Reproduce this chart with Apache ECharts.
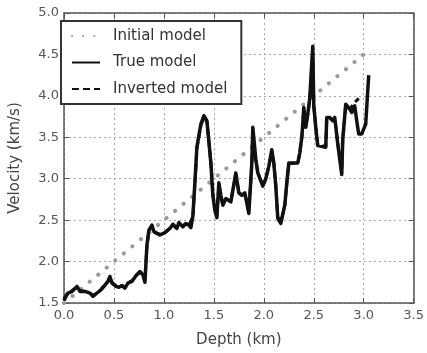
<!DOCTYPE html>
<html>
<head>
<meta charset="utf-8">
<script src="https://cdn.jsdelivr.net/npm/echarts@6/dist/echarts.min.js"></script>
<style>
  html, body { margin: 0; padding: 0; background: #fff; }
  #chart { width: 427px; height: 353px; }
</style>
</head>
<body>
<div id="chart"></div>
<script>
// values
const xTicks = [0, 0.5, 1.0, 1.5, 2.0, 2.5, 3.0, 3.5];
const yTicks = [1.5, 2.0, 2.5, 3.0, 3.5, 4.0, 4.5, 5.0];

const initialDepth = [0.0, 3.0];
const initialVel = [1.5, 4.5];

const trueDepth = [0.00, 0.02, 0.04, 0.08, 0.13, 0.16, 0.21, 0.26, 0.29, 0.34, 0.37, 0.40, 0.44, 0.46, 0.48,
  0.52, 0.55, 0.58, 0.61, 0.64, 0.68, 0.72, 0.76, 0.79, 0.81, 0.83, 0.85, 0.88, 0.90, 0.93, 0.96,
  1.01, 1.06, 1.09, 1.13, 1.15, 1.19, 1.22, 1.25, 1.27, 1.29, 1.31, 1.33, 1.37, 1.40, 1.43, 1.44,
  1.47, 1.49, 1.51, 1.53, 1.55, 1.57, 1.59, 1.62, 1.67, 1.72, 1.75, 1.78, 1.81, 1.85, 1.88, 1.89,
  1.92, 1.94, 1.99, 2.02, 2.05, 2.08, 2.10, 2.12, 2.14, 2.17, 2.19, 2.21, 2.23, 2.25, 2.34, 2.36,
  2.38, 2.39, 2.40, 2.42, 2.44, 2.46, 2.49, 2.50, 2.52, 2.54, 2.62, 2.63, 2.66, 2.69, 2.71, 2.74,
  2.78, 2.79, 2.82, 2.86, 2.88, 2.91, 2.93, 2.95, 2.98, 3.02, 3.05];
const trueVel = [1.53, 1.58, 1.62, 1.64, 1.70, 1.64, 1.64, 1.62, 1.58, 1.63, 1.66, 1.70, 1.76, 1.82, 1.74,
  1.70, 1.69, 1.71, 1.68, 1.74, 1.76, 1.83, 1.88, 1.84, 1.75, 2.20, 2.38, 2.44, 2.36, 2.34, 2.32,
  2.35, 2.40, 2.45, 2.40, 2.47, 2.42, 2.46, 2.44, 2.41, 2.55, 2.95, 3.38, 3.66, 3.76, 3.70, 3.58,
  3.19, 2.80, 2.62, 2.53, 2.95, 2.80, 2.68, 2.76, 2.72, 3.07, 2.83, 2.80, 2.83, 2.58, 3.19, 3.62,
  3.23, 3.07, 2.91, 3.00, 3.15, 3.35, 3.19, 2.91, 2.52, 2.46, 2.48, 2.68, 2.95, 3.19, 3.19, 3.31,
  3.50, 3.66, 3.86, 3.62, 3.78, 3.97, 4.60, 3.89, 3.62, 3.40, 3.38, 3.74, 3.74, 3.70, 3.74, 3.42,
  3.05, 3.47, 3.90, 3.84, 3.80, 3.88, 3.70, 3.54, 3.54, 3.66, 4.25];

const invDepth = [0.00, 0.02, 0.04, 0.08, 0.13, 0.16, 0.21, 0.26, 0.29, 0.34, 0.37, 0.40, 0.44, 0.46, 0.48,
  0.52, 0.55, 0.58, 0.61, 0.64, 0.68, 0.72, 0.76, 0.79, 0.81, 0.83, 0.85, 0.88, 0.90, 0.93, 0.96,
  1.01, 1.06, 1.09, 1.13, 1.15, 1.19, 1.22, 1.25, 1.27, 1.29, 1.31, 1.33, 1.37, 1.40, 1.43, 1.44,
  1.47, 1.49, 1.51, 1.53, 1.55, 1.57, 1.59, 1.62, 1.67, 1.72, 1.75, 1.78, 1.81, 1.85, 1.88, 1.89,
  1.92, 1.94, 1.99, 2.02, 2.05, 2.08, 2.10, 2.12, 2.14, 2.17, 2.19, 2.21, 2.23, 2.25, 2.34, 2.36,
  2.38, 2.39, 2.40, 2.42, 2.44, 2.46, 2.49, 2.50, 2.52, 2.54, 2.62, 2.63, 2.66, 2.69, 2.71, 2.74,
  2.78, 2.79, 2.82, 2.86, 2.88, 2.91, 2.95];
const invVel = [1.55, 1.59, 1.62, 1.65, 1.69, 1.65, 1.64, 1.62, 1.59, 1.63, 1.66, 1.71, 1.76, 1.81, 1.75,
  1.71, 1.69, 1.71, 1.69, 1.74, 1.77, 1.83, 1.87, 1.84, 1.77, 2.18, 2.37, 2.43, 2.37, 2.34, 2.33,
  2.35, 2.40, 2.44, 2.41, 2.46, 2.43, 2.46, 2.44, 2.42, 2.54, 2.93, 3.36, 3.64, 3.74, 3.69, 3.57,
  3.20, 2.82, 2.64, 2.55, 2.93, 2.80, 2.69, 2.76, 2.73, 3.05, 2.84, 2.80, 2.83, 2.60, 3.17, 3.58,
  3.23, 3.07, 2.92, 3.00, 3.15, 3.33, 3.19, 2.92, 2.54, 2.47, 2.49, 2.68, 2.94, 3.18, 3.19, 3.31,
  3.49, 3.65, 3.84, 3.63, 3.77, 3.95, 4.52, 3.88, 3.62, 3.41, 3.39, 3.72, 3.73, 3.70, 3.73, 3.43,
  3.08, 3.47, 3.88, 3.84, 3.82, 3.92, 3.97];

const pairs = (xs, ys) => xs.map((x, i) => [x, ys[i]]);

const chart = echarts.init(document.getElementById('chart'), null, { renderer: 'canvas' });

const font = 'DejaVu Sans';
const frameColor = '#555';
const gridLine = { show: true, lineStyle: { color: '#a8a8a8', type: [2, 3], width: 1 } };

const option = {
    backgroundColor: '#fff',
    animation: false,
    textStyle: { fontFamily: font },
    grid: { left: 53, right: 9, top: 13, bottom: 43, show: false },
    legend: {
        orient: 'vertical',
        left: 61,
        top: 21,
        padding: [5, 14, 5, 10],
        itemGap: 6.5,
        itemWidth: 28,
        itemHeight: 17,
        borderColor: '#333',
        borderWidth: 2,
        borderRadius: 0,
        backgroundColor: '#fff',
        itemStyle: { color: 'transparent', borderWidth: 0, opacity: 0 },
        textStyle: { fontFamily: font, fontSize: 15, color: '#333', padding: [0, 0, 0, 8], lineHeight: 20 },
        data: ['Initial model', 'True model', 'Inverted model']
    },
    xAxis: [
        {
            type: 'value', min: 0, max: 3.5, interval: 0.5,
            name: 'Depth (km)', nameLocation: 'middle', nameGap: 30,
            nameTextStyle: { fontFamily: font, fontSize: 15, color: '#444' },
            axisLine: { show: true, onZero: false, lineStyle: { color: frameColor, width: 1.5 } },
            axisTick: { show: true, inside: true, length: 5, lineStyle: { color: frameColor } },
            axisLabel: { fontFamily: font, fontSize: 13, color: '#555', margin: 6, formatter: v => v.toFixed(1) },
            splitLine: gridLine
        },
        {
            type: 'value', position: 'top', min: 0, max: 3.5, interval: 0.5,
            axisLine: { show: true, onZero: false, lineStyle: { color: frameColor, width: 1.5 } },
            axisTick: { show: true, inside: true, length: 5, lineStyle: { color: frameColor } },
            axisLabel: { show: false },
            splitLine: { show: false }
        }
    ],
    yAxis: [
        {
            type: 'value', min: 1.5, max: 5.0, interval: 0.5,
            name: 'Velocity (km/s)', nameLocation: 'middle', nameGap: 41,
            nameTextStyle: { fontFamily: font, fontSize: 15, color: '#444' },
            axisLine: { show: true, onZero: false, lineStyle: { color: frameColor, width: 1.5 } },
            axisTick: { show: true, inside: true, length: 5, lineStyle: { color: frameColor } },
            axisLabel: { fontFamily: font, fontSize: 13, color: '#555', margin: 5, formatter: v => v.toFixed(1) },
            splitLine: gridLine
        },
        {
            type: 'value', position: 'right', min: 1.5, max: 5.0, interval: 0.5,
            axisLine: { show: true, onZero: false, lineStyle: { color: frameColor, width: 1.5 } },
            axisTick: { show: true, inside: true, length: 5, lineStyle: { color: frameColor } },
            axisLabel: { show: false },
            splitLine: { show: false }
        }
    ],
    series: [
        {
            name: 'Initial model',
            type: 'line',
            symbol: 'none',
            data: pairs(initialDepth, initialVel),
            lineStyle: { color: '#9a9a9a', width: 4, type: [0.1, 11], cap: 'round' },
            itemStyle: { color: '#9a9a9a' },
            z: 2
        },
        {
            name: 'True model',
            type: 'line',
            symbol: 'none',
            data: pairs(trueDepth, trueVel),
            lineStyle: { color: '#111', width: 3.5, join: 'round' },
            itemStyle: { color: '#111' },
            z: 3
        },
        {
            name: 'Inverted model',
            type: 'line',
            symbol: 'none',
            data: pairs(invDepth, invVel),
            lineStyle: { color: '#111', width: 3, type: [7, 4] },
            itemStyle: { color: '#111' },
            z: 4
        }
    ]
};

chart.setOption(option);
</script>
</body>
</html>
